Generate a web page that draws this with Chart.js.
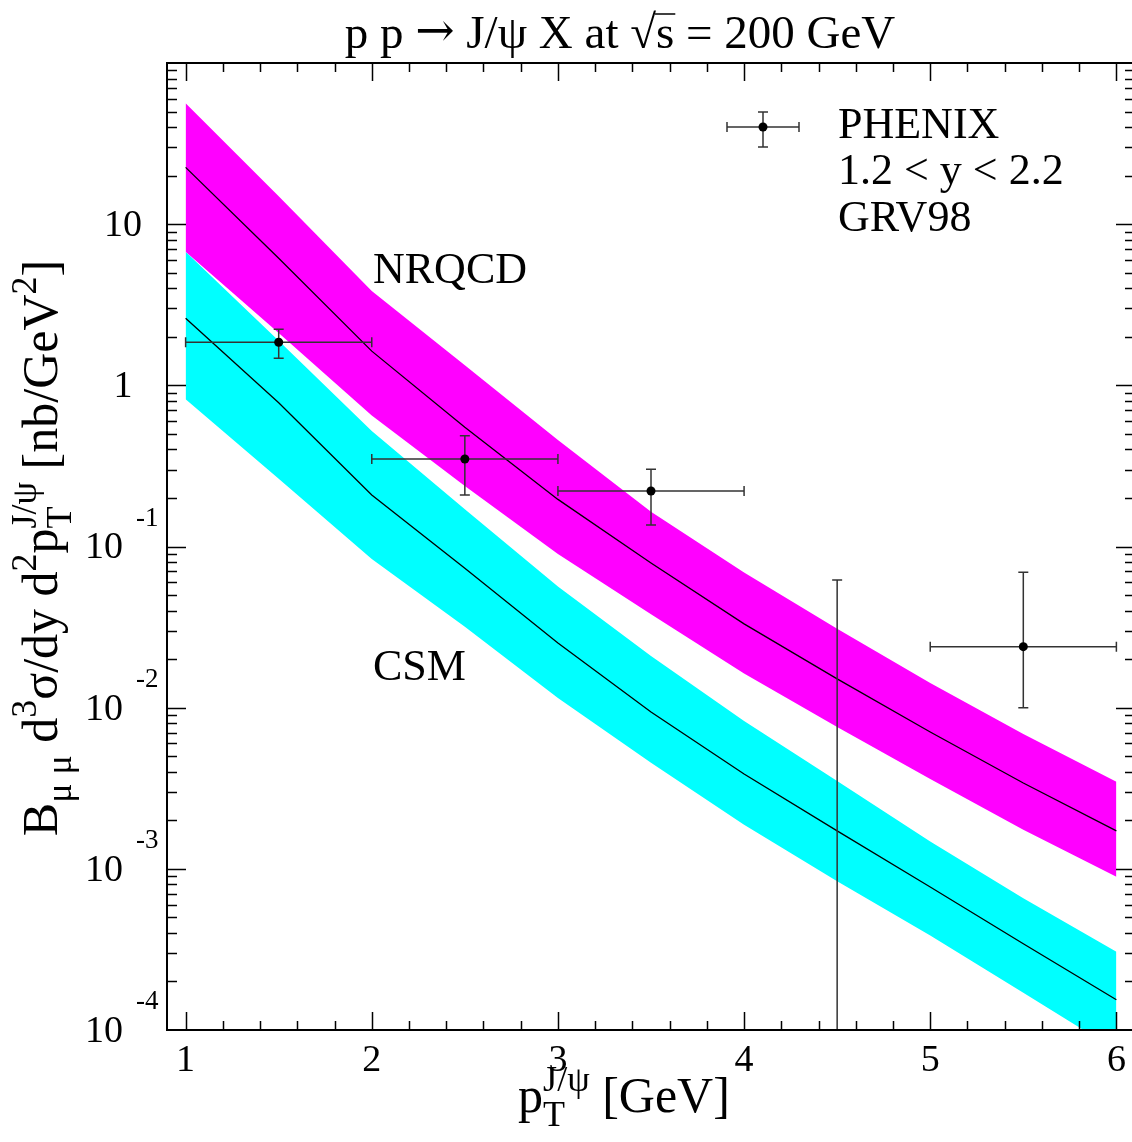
<!DOCTYPE html>
<html>
<head>
<meta charset="utf-8">
<script src="https://cdn.jsdelivr.net/npm/chart.js@4.4.1/dist/chart.umd.min.js"></script>
<style>
  html, body { margin: 0; padding: 0; overflow: hidden; background: #fff; }
  #wrap { width: 1136px; height: 1142px; }
</style>
</head>
<body>
<div id="wrap"><canvas id="chart" width="1136" height="1142"></canvas></div>
<script>
// transverse momentum grid of the theory bands (GeV)
const pt = [1, 1.5, 2, 2.5, 3, 3.5, 4, 4.5, 5, 5.5, 6];

// NRQCD band (nb/GeV^2)
const nrqcdUpper = [56.2, 14.9, 3.85, 1.33, 0.458, 0.164, 0.069, 0.0309, 0.0142, 0.00687, 0.00347];
const nrqcdCentral = [22.5, 6.14, 1.63, 0.549, 0.196, 0.079, 0.0331, 0.0151, 0.00706, 0.00341, 0.00172];
const nrqcdLower = [6.75, 2.11, 0.65, 0.237, 0.0898, 0.038, 0.0163, 0.00759, 0.00361, 0.00175, 0.000894];

// CSM band
const csmUpper = [6.75, 1.89, 0.521, 0.17, 0.0565, 0.0209, 0.00827, 0.00351, 0.00148, 0.000657, 0.000306];
const csmCentral = [2.61, 0.78, 0.209, 0.0732, 0.0252, 0.0094, 0.00388, 0.00172, 0.000772, 0.000343, 0.000154];
const csmLower = [0.819, 0.263, 0.0837, 0.0318, 0.0115, 0.00456, 0.00188, 0.000837, 0.000386, 0.00017, 0.0000748];

// PHENIX data, 1.2 < y < 2.2
const phenixPt = [1.5, 2.5, 3.5, 4.5, 5.5];
const phenixPtLow = [1, 2, 3, 4, 5];
const phenixPtHigh = [2, 3, 4, 5, 6];
const phenixY = [1.85, 0.349, 0.221, 0.00005, 0.0239];
const phenixYLow = [1.47, 0.209, 0.136, 0.000001, 0.00999];
const phenixYHigh = [2.23, 0.487, 0.301, 0.062, 0.0692];

// axis ticks
const yDecades = [-4, -3, -2, -1, 0, 1];
const xMajorTicks = [1, 2, 3, 4, 5, 6];

const FONT = '"Liberation Serif", "Times New Roman", serif';
const MAGENTA = '#ff00ff';
const CYAN = '#00ffff';

const toXY = (xs, ys) => xs.map((x, i) => ({ x, y: ys[i] }));

function bandEdge(values, color, fill, order) {
  return {
    data: toXY(pt, values),
    borderWidth: 0,
    borderColor: 'rgba(0,0,0,0)',
    backgroundColor: color,
    pointRadius: 0,
    fill: fill,
    order: order
  };
}

function centralLine(values) {
  return {
    data: toXY(pt, values),
    borderColor: '#000',
    borderWidth: 1.3,
    pointRadius: 0,
    fill: false,
    order: 1
  };
}

// text with sub/superscripts: parts are {t} or {sub, sup}
function drawRich(ctx, parts, x, y, size, draw = true) {
  let cx = x;
  for (const p of parts) {
    if (p.t !== undefined) {
      ctx.font = `${size}px ${FONT}`;
      if (draw) ctx.fillText(p.t, cx, y);
      cx += ctx.measureText(p.t).width;
    } else {
      const s = size * 0.72;
      ctx.font = `${s}px ${FONT}`;
      let w = 0;
      if (p.sup) {
        if (draw) ctx.fillText(p.sup, cx, y - size * 0.42);
        w = ctx.measureText(p.sup).width;
      }
      if (p.sub) {
        if (draw) ctx.fillText(p.sub, cx, y + size * 0.28);
        w = Math.max(w, ctx.measureText(p.sub).width);
      }
      cx += w;
    }
  }
  return cx - x;
}

// error bars for the PHENIX points
const errorBars = {
  id: 'errorBars',
  beforeDatasetDraw(chart, args) {
    if (args.index !== 6) return;
    const { ctx, chartArea: a, scales: { x, y } } = chart;
    ctx.save();
    ctx.beginPath();
    ctx.rect(a.left, a.top, a.right - a.left, a.bottom - a.top);
    ctx.clip();
    ctx.strokeStyle = '#333';
    ctx.lineWidth = 1.5;
    const cap = 5;
    phenixPt.forEach((v, i) => {
      const px = x.getPixelForValue(v);
      const py = y.getPixelForValue(phenixY[i]);
      const x0 = x.getPixelForValue(phenixPtLow[i]);
      const x1 = x.getPixelForValue(phenixPtHigh[i]);
      const y0 = y.getPixelForValue(phenixYLow[i]);
      const y1 = y.getPixelForValue(phenixYHigh[i]);
      ctx.beginPath();
      ctx.moveTo(x0, py); ctx.lineTo(x1, py);
      ctx.moveTo(x0, py - cap); ctx.lineTo(x0, py + cap);
      ctx.moveTo(x1, py - cap); ctx.lineTo(x1, py + cap);
      ctx.moveTo(px, y0); ctx.lineTo(px, y1);
      ctx.moveTo(px - cap, y0); ctx.lineTo(px + cap, y0);
      ctx.moveTo(px - cap, y1); ctx.lineTo(px + cap, y1);
      ctx.stroke();
    });
    ctx.restore();
  }
};

// frame, inward ticks, labels and annotations
const decorations = {
  id: 'decorations',
  afterDraw(chart) {
    const { ctx, chartArea: a, scales: { x, y } } = chart;
    ctx.save();
    ctx.strokeStyle = '#000';
    ctx.lineWidth = 1.5;
    ctx.beginPath();
    // x ticks top and bottom
    for (let v = 1; v <= 6.001; v += 0.2) {
      const px = Math.round(x.getPixelForValue(v)) + 0.5;
      const major = Math.abs(v - Math.round(v)) < 1e-6;
      const len = major ? 18 : 9;
      ctx.moveTo(px, a.bottom); ctx.lineTo(px, a.bottom - len);
      ctx.moveTo(px, a.top); ctx.lineTo(px, a.top + len);
    }
    // y ticks left and right
    for (let d = -4; d <= 1; d++) {
      for (let m = 1; m <= 9; m++) {
        const val = m * Math.pow(10, d);
        if (d === -4 && m === 1) continue;
        const py = Math.round(y.getPixelForValue(val)) + 0.5;
        const len = m === 1 ? 19 : 10;
        ctx.moveTo(a.left, py); ctx.lineTo(a.left + len, py);
        ctx.moveTo(a.right, py); ctx.lineTo(a.right - len, py);
      }
    }
    ctx.stroke();
    // frame
    ctx.lineWidth = 2;
    ctx.strokeRect(a.left, a.top, a.right - a.left, a.bottom - a.top);

    ctx.fillStyle = '#000';
    ctx.textAlign = 'left';
    ctx.textBaseline = 'alphabetic';

    // x tick labels
    ctx.font = `38px ${FONT}`;
    ctx.textAlign = 'center';
    xMajorTicks.forEach(v => {
      ctx.fillText(String(v), x.getPixelForValue(v), 1071);
    });

    // y tick labels: 10^n
    ctx.textBaseline = 'middle';
    yDecades.forEach(d => {
      const py = y.getPixelForValue(Math.pow(10, d));
      if (d === 0 || d === 1) {
        ctx.font = `38px ${FONT}`;
        ctx.textAlign = 'center';
        ctx.fillText(d === 0 ? '1' : '10', 123, py + 2);
      } else {
        ctx.font = `38px ${FONT}`;
        ctx.textAlign = 'right';
        ctx.fillText('10', 123, py + 2);
        ctx.font = `27px ${FONT}`;
        ctx.textAlign = 'left';
        ctx.fillText(String(d), 136, py - 28);
      }
    });

    ctx.textAlign = 'left';
    ctx.textBaseline = 'alphabetic';

    // title with sqrt(s)
    const tsize = 47;
    const tparts = [
      ['p p ', FONT], ['\u2192', '"DejaVu Serif", serif'], [' J/\u03c8 X at \u221a', FONT],
      ['s', FONT], [' = 200 GeV', FONT]
    ];
    let wTot = 0;
    tparts.forEach(([s, f]) => { ctx.font = `${tsize}px ${f}`; wTot += ctx.measureText(s).width; });
    let tx = 620 - wTot / 2;
    const ty = 48;
    tparts.forEach(([s, f], i) => {
      ctx.font = `${tsize}px ${f}`;
      const w = ctx.measureText(s).width;
      ctx.fillText(s, tx, ty + (i === 1 ? -2 : 0));
      if (s === 's') {
        ctx.lineWidth = 1.5;
        ctx.beginPath();
        ctx.moveTo(tx - 1, ty - 34); ctx.lineTo(tx + w + 1, ty - 34);
        ctx.stroke();
      }
      tx += w;
    });

    // x axis title
    const xt = [{ t: 'p' }, { sub: 'T', sup: 'J/\u03c8' }, { t: ' [GeV]' }];
    const xw = drawRich(ctx, xt, 0, 0, 50, false);
    drawRich(ctx, xt, 624 - xw / 2, 1112, 50);

    // y axis title, rotated
    const yt = [
      { t: 'B' }, { sub: '\u03bc \u03bc' }, { t: ' d' }, { sup: '3' }, { t: '\u03c3/dy d' }, { sup: '2' },
      { t: 'p' }, { sub: 'T', sup: 'J/\u03c8' }, { t: ' [nb/GeV' }, { sup: '2' }, { t: ']' }
    ];
    const yw = drawRich(ctx, yt, 0, 0, 50, false);
    ctx.save();
    ctx.translate(57, 548);
    ctx.rotate(-Math.PI / 2);
    drawRich(ctx, yt, -yw / 2, 0, 50);
    ctx.restore();

    // band labels
    ctx.font = `44px ${FONT}`;
    ctx.fillText('NRQCD', 373, 283);
    ctx.fillText('CSM', 373, 680);

    // legend
    ctx.fillText('PHENIX', 838, 138);
    ctx.fillText('1.2 < y < 2.2', 838, 184);
    ctx.fillText('GRV98', 838, 231);
    const lx = 763, ly = 127;
    ctx.strokeStyle = '#333';
    ctx.lineWidth = 1.5;
    ctx.beginPath();
    ctx.moveTo(lx - 36, ly); ctx.lineTo(lx + 36, ly);
    ctx.moveTo(lx - 36, ly - 5); ctx.lineTo(lx - 36, ly + 5);
    ctx.moveTo(lx + 36, ly - 5); ctx.lineTo(lx + 36, ly + 5);
    ctx.moveTo(lx, ly - 15); ctx.lineTo(lx, ly + 20);
    ctx.moveTo(lx - 5, ly - 15); ctx.lineTo(lx + 5, ly - 15);
    ctx.moveTo(lx - 5, ly + 20); ctx.lineTo(lx + 5, ly + 20);
    ctx.stroke();
    ctx.beginPath();
    ctx.arc(lx, ly, 4.5, 0, Math.PI * 2);
    ctx.fill();
    ctx.restore();
  }
};

const ctx = document.getElementById('chart').getContext('2d');
const chart = new Chart(ctx, {
  type: 'line',
  data: {
    datasets: [
      bandEdge(csmUpper, CYAN, '+1', 3),
      bandEdge(csmLower, CYAN, false, 3),
      bandEdge(nrqcdUpper, MAGENTA, '+1', 2),
      bandEdge(nrqcdLower, MAGENTA, false, 2),
      centralLine(csmCentral),
      centralLine(nrqcdCentral),
      {
        type: 'scatter',
        data: toXY(phenixPt, phenixY),
        pointRadius: 4.5,
        pointBackgroundColor: '#000',
        pointBorderWidth: 0,
        showLine: false,
        order: 0
      }
    ]
  },
  options: {
    responsive: false,
    animation: false,
    layout: { autoPadding: false, padding: { left: 167, top: 63, right: 1, bottom: 112 } },
    plugins: {
      legend: { display: false },
      tooltip: { enabled: false },
      filler: { propagate: false }
    },
    scales: {
      x: { type: 'linear', min: 0.9, max: 6.1, display: false },
      y: { type: 'logarithmic', min: 1e-4, max: 100, display: false }
    }
  },
  plugins: [errorBars, decorations]
});
</script>
</body>
</html>
